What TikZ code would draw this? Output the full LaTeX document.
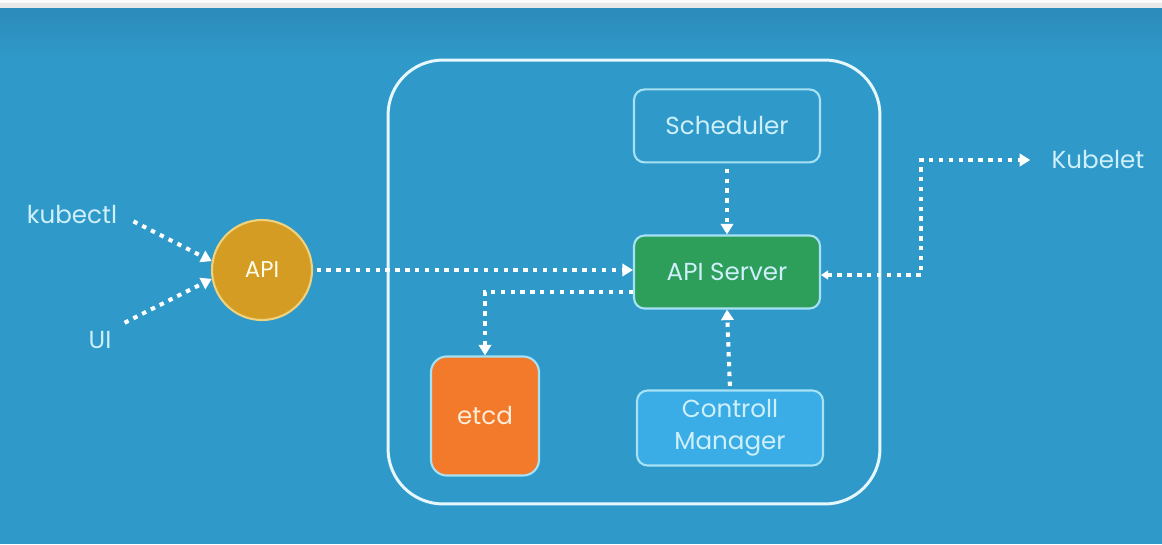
\documentclass[tikz,border=0pt]{standalone}
\usepackage{fontspec}
\setmainfont{Poppins}
\usepackage{xcolor}
\usetikzlibrary{arrows.meta, positioning}

\definecolor{bgblue}{HTML}{2F9AC9}
\definecolor{bgtop}{HTML}{2C8BBA}
\definecolor{boxline}{HTML}{A6E1F4}
\definecolor{labeltext}{HTML}{CFF0FA}
\definecolor{srvgreen}{HTML}{2E9E5B}
\definecolor{etcdorange}{HTML}{F47A2B}
\definecolor{ctrlblue}{HTML}{3AADE7}
\definecolor{apigold}{HTML}{D49C22}
\definecolor{apiring}{HTML}{EED27E}

\begin{document}
\begin{tikzpicture}[x=0.02cm, y=-0.02cm,
  every node/.style={font=\fontsize{14}{19}\selectfont, text=labeltext},
  block/.style={draw=boxline, line width=1.2pt, rounded corners=6pt,
                minimum width=3.72cm, minimum height=1.46cm, align=center},
  master/.style={draw=white!90!cyan, line width=1.7pt, rounded corners=1.1cm,
                 minimum width=9.84cm, minimum height=8.88cm},
  endpoint/.style={circle, draw=apiring, line width=1.2pt, fill=apigold,
                   minimum size=2cm, text=white!92!yellow,
                   font=\fontsize{13}{16}\selectfont},
  client/.style={inner sep=2pt},
  arr/.style={white, line width=2.3pt, dash pattern=on 2.5pt off 3.1pt,
              -{Triangle[length=6pt, width=7pt]}}
]
% background
\fill[bgblue] (0,0) rectangle (1162,544);
\shade[top color=bgtop, bottom color=bgblue] (0,8) rectangle (1162,60);
\fill[gray!18] (0,0) rectangle (1162,8);
\fill[white!96!gray] (0,0) rectangle (1162,3);
\useasboundingbox (0,0) rectangle (1162,544);

% master node
\node[master] (masterbox) at (634,282) {};

% components
\node[block, fill=srvgreen] (apisrv) at (727,272) {API Server};
\node[block, fill=bgblue, above=1.42cm of apisrv] (sched) {Scheduler};
\node[block, fill=ctrlblue, minimum height=1.5cm] (ctrl) at (730,428) {Controll\\[-1pt]Manager};
\node[block, fill=etcdorange, rounded corners=9pt, minimum width=2.16cm,
      minimum height=2.38cm, text=white!85!orange] (etcd) at (485,416) {etcd};

% clients
\node[endpoint] (api) at (262,270) {API};
\node[client] (kubectl) at (72,215) {kubectl};
\node[client] (ui) at (100,340) {UI};
\node[client] (kubelet) at (1098,160) {Kubelet};

% connectors
\draw[arr, shorten <=8pt] (kubectl.east) -- (api.170);
\draw[arr, shorten <=6pt] (ui.north east) -- (api.190);
\draw[arr, shorten <=2pt] (api.east) -- (api.east -| apisrv.west);
\draw[arr] ([yshift=-0.4cm]apisrv.west) -| (etcd.north);
\draw[arr, shorten <=3pt] (sched.south) -- (apisrv.north);
\draw[arr, shorten <=2pt] (ctrl.north) -- (apisrv.south);
\draw[arr, {Triangle[length=4pt, width=5pt]}-{Triangle[length=6pt, width=7pt]},
      shorten >=10pt] ([yshift=-0.06cm]apisrv.east) -- ++(100,0) |- (kubelet.west);
\end{tikzpicture}
\end{document}
